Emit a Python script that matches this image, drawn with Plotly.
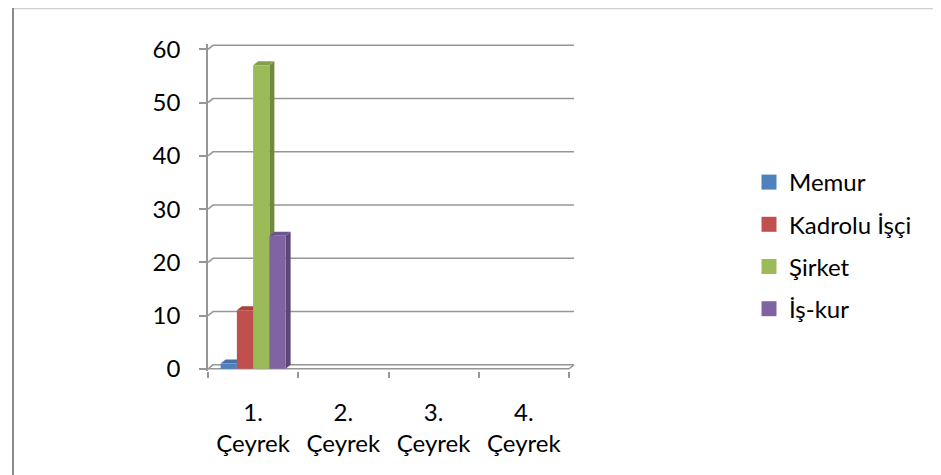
import plotly.graph_objects as go

# ---------------- data ----------------
categories = ["1. Çeyrek", "2. Çeyrek", "3. Çeyrek", "4. Çeyrek"]
tick_labels = ["1.<br>Çeyrek", "2.<br>Çeyrek", "3.<br>Çeyrek", "4.<br>Çeyrek"]
series_names = ["Memur", "Kadrolu İşçi", "Şirket", "İş-kur"]
memur = [1, 0, 0, 0]
kadrolu_isci = [11, 0, 0, 0]
sirket = [57, 0, 0, 0]
is_kur = [25, 0, 0, 0]
y_ticks = [0, 10, 20, 30, 40, 50, 60]

# ---------------- styles ----------------
front_colors = ["#4F81BD", "#C0504D", "#9BBB59", "#8064A2"]
side_colors = ["#385D8A", "#8C3836", "#71893F", "#5C4776"]
top_colors = ["#4472A8", "#A8433F", "#84A04B", "#6C5590"]
FONT = "Lato, Carlito, Calibri, sans-serif"
GRID = "#969696"

W, H = 941, 475
L_PX, R_PX = 200, 568          # plot area in pixels
T_PX, B_PX = 36, 363
n_cat = len(categories)
x_lo, x_hi = -0.5, 3.5776
y_lo, y_hi = -0.4, 61
px_per_cat = (R_PX - L_PX) / (x_hi - x_lo)
px_per_unit = (B_PX - T_PX) / (y_hi - y_lo)
DX = 5 / px_per_cat            # 3D depth offsets in data units
DY = 4 / px_per_unit
BARGAP = 0.28
GROUP = 1 - BARGAP
BW = GROUP / len(series_names)

x_pos = list(range(n_cat))
series_values = [memur, kadrolu_isci, sirket, is_kur]

fig = go.Figure()
for i, (name, vals) in enumerate(zip(series_names, series_values)):
    fig.add_trace(go.Bar(
        x=x_pos, y=vals, name=name, legendgroup=name, showlegend=False,
        marker=dict(color=front_colors[i], line=dict(width=0)),
    ))
# legend entries (square swatches)
for i, name in enumerate(series_names):
    fig.add_trace(go.Scatter(
        x=[None], y=[None], mode="markers", name=name, legendgroup=name,
        marker=dict(symbol="square", size=15, color=front_colors[i],
                    line=dict(width=0)),
        hoverinfo="skip",
    ))

shapes = []
# back-wall gridlines with 3D connectors
x_first = x_lo
x_last = x_lo + n_cat
for t in y_ticks:
    shapes.append(dict(
        type="path", xref="x", yref="y", layer="below",
        path=f"M {x_first},{t} L {x_first + DX},{t + DY} L {x_last + DX},{t + DY}",
        line=dict(color=GRID, width=1.5),
    ))
# floor front edge and right diagonal
shapes.append(dict(
    type="path", xref="x", yref="y", layer="below",
    path=f"M {x_first},0 L {x_last},0 L {x_last + DX},{DY}",
    line=dict(color=GRID, width=1.5),
))
# 3D faces of the bars
for i, vals in enumerate(series_values):
    for c, v in enumerate(vals):
        if not v:
            continue
        left = c - GROUP / 2 + i * BW
        right = left + BW
        shapes.append(dict(
            type="path", xref="x", yref="y", layer="between",
            path=(f"M {right},0 L {right + DX},{DY} L {right + DX},{v + DY} "
                  f"L {right},{v} Z"),
            fillcolor=side_colors[i], line=dict(width=0),
        ))
        shapes.append(dict(
            type="path", xref="x", yref="y", layer="between",
            path=(f"M {left},{v} L {left + DX},{v + DY} L {right + DX},{v + DY} "
                  f"L {right},{v} Z"),
            fillcolor=top_colors[i], line=dict(width=0),
        ))

# outer chart frame (paper coordinates)
def px_x(p):
    return (p - L_PX) / (R_PX - L_PX)

def px_y(p):
    return (B_PX - p) / (B_PX - T_PX)

shapes.append(dict(type="line", xref="paper", yref="paper",
                   x0=px_x(5), x1=px_x(945), y0=px_y(0.5), y1=px_y(0.5),
                   line=dict(color="#D0D0D0", width=1.5)))
shapes.append(dict(type="line", xref="paper", yref="paper",
                   x0=px_x(5), x1=px_x(5), y0=px_y(0), y1=px_y(471),
                   line=dict(color="#8A8A8A", width=2)))
shapes.append(dict(type="line", xref="paper", yref="paper",
                   x0=px_x(4), x1=px_x(945), y0=px_y(470.5), y1=px_y(470.5),
                   line=dict(color="#8A8A8A", width=2)))

fig.update_layout(
    width=W, height=H, autosize=False,
    margin=dict(l=L_PX, r=W - R_PX, t=T_PX, b=H - B_PX, pad=0),
    paper_bgcolor="white", plot_bgcolor="rgba(0,0,0,0)",
    barmode="group", bargap=BARGAP, bargroupgap=0,
    font=dict(family=FONT, size=24, color="#000000"),
    shapes=shapes,
    showlegend=True,
    legend=dict(
        x=px_x(741), y=px_y(152), xanchor="left", yanchor="top",
        font=dict(family=FONT, size=24, color="#000000"),
        tracegroupgap=8, bgcolor="rgba(0,0,0,0)", itemclick=False,
    ),
    xaxis=dict(
        range=[x_lo, x_hi], showgrid=False, zeroline=False, showline=False,
        tickmode="array", tickvals=x_pos, ticktext=tick_labels, ticks="",
        ticklabelstandoff=25,
        minor=dict(tickmode="array", tickvals=[x_lo + k for k in range(n_cat + 1)],
                   ticks="outside", ticklen=6, tickwidth=1.5, tickcolor=GRID,
                   showgrid=False),
        fixedrange=True,
    ),
    yaxis=dict(
        range=[y_lo, y_hi], showgrid=False, zeroline=False,
        showline=True, linecolor=GRID, linewidth=1.5,
        tickmode="array", tickvals=y_ticks, ticks="outside", ticklen=7,
        tickwidth=1.5, tickcolor=GRID, ticklabelstandoff=14,
        fixedrange=True,
    ),
)

fig.write_html("out.html")
